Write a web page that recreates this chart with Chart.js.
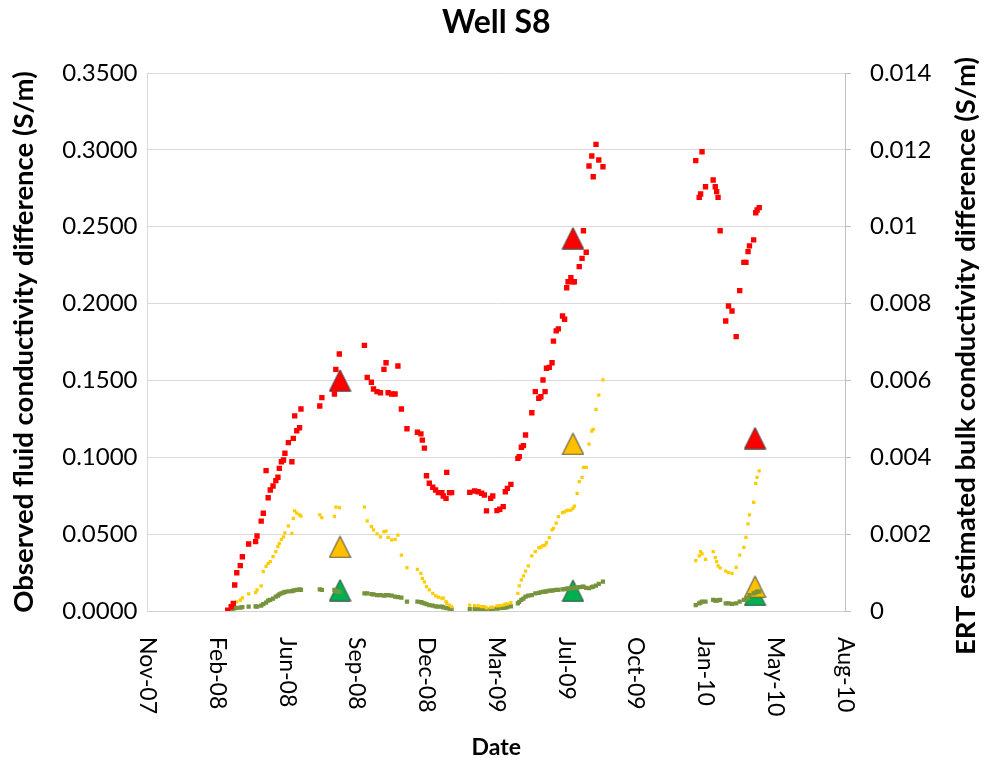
<!DOCTYPE html>
<html>
<head>
<meta charset="utf-8">
<title>Well S8</title>
<script src="https://cdn.jsdelivr.net/npm/chart.js@4.4.1/dist/chart.umd.min.js"></script>
<style>
  html, body { margin: 0; padding: 0; background: #fff; }
  #wrap { width: 985px; height: 766px; position: relative; }
</style>
</head>
<body>
<div id="wrap"><canvas id="wellChart"></canvas></div>
<script>
// Texts
const chartTitle = 'Well S8';
const leftTitle = 'Observed fluid conductivity difference (S/m)';
const rightTitle = 'ERT estimated bulk conductivity difference (S/m)';
const xTitle = 'Date';

// x axis: 100-day steps from the first to the last tick
const xStart = '2007-11-14';
const xEnd = '2010-08-10';
const xTickLabels = ['Nov-07', 'Feb-08', 'Jun-08', 'Sep-08', 'Dec-08', 'Mar-09',
                     'Jul-09', 'Oct-09', 'Jan-10', 'May-10', 'Aug-10'];

// Observed fluid conductivity (left axis), one shared list of sampling dates
const dates = [
  '2008-03-08','2008-03-13','2008-03-16','2008-03-18','2008-03-21','2008-03-26','2008-03-29','2008-04-07',
  '2008-04-17','2008-04-19','2008-04-25','2008-04-28','2008-05-02','2008-05-05','2008-05-08','2008-05-12',
  '2008-05-16','2008-05-19','2008-05-21','2008-05-24','2008-05-27','2008-05-29','2008-06-03','2008-06-08',
  '2008-06-10','2008-06-12','2008-06-15','2008-06-19','2008-06-21','2008-07-18','2008-07-21','2008-08-08',
  '2008-08-10','2008-08-15','2008-09-20','2008-09-24','2008-09-30','2008-10-03','2008-10-08','2008-10-13',
  '2008-10-18','2008-10-21','2008-10-24','2008-10-29','2008-11-03','2008-11-07','2008-11-12','2008-11-20',
  '2008-12-05','2008-12-10','2008-12-12','2008-12-15','2008-12-18','2008-12-22','2008-12-27','2008-12-31',
  '2009-01-04','2009-01-09','2009-01-11','2009-01-15','2009-01-16','2009-01-20','2009-01-23','2009-02-18',
  '2009-02-25','2009-03-02','2009-03-07','2009-03-11','2009-03-14','2009-03-20','2009-03-23','2009-03-29',
  '2009-04-02','2009-04-07','2009-04-10','2009-04-13','2009-04-18','2009-04-28','2009-04-30','2009-05-03',
  '2009-05-06','2009-05-09','2009-05-13','2009-05-18','2009-05-23','2009-05-28','2009-05-31','2009-06-03',
  '2009-06-06','2009-06-08','2009-06-12','2009-06-16','2009-06-18','2009-06-22','2009-06-25','2009-07-01',
  '2009-07-04','2009-07-07','2009-07-09','2009-07-13','2009-07-16','2009-07-18','2009-07-22','2009-07-25',
  '2009-07-29','2009-07-31','2009-08-04','2009-08-08','2009-08-12','2009-08-14','2009-08-18','2009-08-22',
  '2009-08-28','2010-01-08','2010-01-13','2010-01-15','2010-01-17','2010-01-22','2010-02-02','2010-02-05',
  '2010-02-07','2010-02-09','2010-02-12','2010-02-20','2010-02-24','2010-03-01','2010-03-07','2010-03-12',
  '2010-03-18','2010-03-21','2010-03-24','2010-03-26','2010-04-01','2010-04-04','2010-04-06','2010-04-09'
];
const fluidRed = [
  0.0005,0.0028,0.0050,0.0169,0.0249,0.0295,0.0353,0.0436,
  0.0451,0.0488,0.0585,0.0636,0.0913,0.0737,0.0787,0.0813,
  0.0848,0.0870,0.0928,0.0971,0.0982,0.1026,0.1095,0.0971,
  0.1123,0.1269,0.1173,0.1192,0.1314,0.1334,0.1388,0.1412,
  0.1572,0.1672,0.1728,0.1520,0.1488,0.1444,0.1427,0.1420,
  0.1572,0.1615,0.1420,0.1412,0.1412,0.1594,0.1314,0.1186,
  0.1163,0.1152,0.1112,0.1060,0.0880,0.0831,0.0805,0.0787,
  0.0770,0.0770,0.0748,0.0733,0.0902,0.0770,0.0770,0.0772,
  0.0781,0.0776,0.0766,0.0755,0.0651,0.0733,0.0748,0.0653,
  0.0662,0.0679,0.0776,0.0798,0.0824,0.0993,0.1004,0.1065,
  0.1076,0.1145,null,0.1290,0.1427,0.1384,0.1394,0.1503,
  0.1427,0.1579,0.1585,0.1615,0.1756,0.1822,0.1835,0.1919,
  0.1898,0.2103,0.2142,0.2168,0.2142,0.2142,null,0.2240,
  0.2294,0.2474,0.2334,0.2895,0.2960,0.2825,0.3036,0.2934,
  0.2890,0.2930,0.2691,0.2713,0.2988,0.2760,0.2804,0.2760,
  0.2728,0.2691,0.2474,0.1887,0.1984,0.1952,0.1785,0.2084,
  0.2268,0.2268,0.2338,0.2375,0.2414,0.2591,0.2609,0.2624
];
const fluidYellow = [
  0.0005,0.0028,0.0050,0.0055,0.0060,0.0070,0.0085,0.0111,
  0.0119,0.0137,0.0163,0.0256,0.0290,0.0310,0.0321,0.0353,
  0.0386,0.0418,0.0440,0.0466,0.0483,0.0509,0.0553,0.0505,
  0.0603,0.0651,0.0636,0.0625,0.0618,0.0625,0.0607,0.0616,
  0.0675,0.0672,0.0675,0.0586,0.0549,0.0527,0.0501,0.0483,
  0.0516,0.0520,0.0479,0.0462,0.0466,0.0494,0.0364,0.0282,
  0.0271,0.0245,0.0213,0.0190,0.0158,0.0137,0.0115,0.0098,
  0.0090,0.0083,0.0083,0.0061,0.0050,0.0039,0.0028,0.0039,
  0.0035,0.0033,0.0028,0.0028,0.0020,0.0024,0.0026,0.0033,
  0.0035,0.0039,0.0044,0.0046,0.0054,0.0115,0.0163,0.0202,
  0.0228,0.0260,0.0293,0.0358,0.0386,0.0410,0.0416,0.0425,
  0.0429,0.0444,0.0478,0.0527,0.0538,0.0572,0.0614,0.0640,
  0.0645,0.0653,0.0655,0.0657,0.0668,0.0683,0.0766,0.0841,
  0.0870,0.0935,0.0935,0.1086,0.1171,0.1182,0.1312,0.1405,
  0.1503,0.0327,0.0358,0.0386,0.0371,0.0336,0.0386,0.0347,
  0.0321,0.0293,0.0280,0.0260,0.0249,0.0245,0.0284,0.0364,
  0.0414,0.0479,0.0566,0.0625,0.0707,0.0831,0.0870,0.0911
];
const fluidGreen = [
  0.0005,0.0010,0.0015,0.0018,0.0020,0.0022,0.0025,0.0028,
  0.0030,0.0028,0.0035,0.0045,0.0055,0.0067,0.0072,0.0080,
  0.0093,0.0100,0.0108,0.0115,0.0119,0.0124,0.0128,0.0130,
  0.0132,0.0135,0.0137,0.0141,0.0137,0.0141,0.0137,0.0137,
  0.0130,0.0125,0.0115,0.0115,0.0110,0.0108,0.0104,0.0104,
  0.0100,0.0104,0.0104,0.0100,0.0093,0.0090,0.0087,0.0061,
  0.0061,0.0058,0.0055,0.0050,0.0045,0.0039,0.0035,0.0030,
  0.0028,0.0028,0.0024,0.0020,0.0018,0.0015,0.0011,0.0012,
  0.0012,0.0012,0.0010,0.0010,0.0008,0.0010,0.0012,0.0015,
  0.0018,0.0020,0.0022,0.0025,0.0030,0.0050,0.0060,0.0072,
  0.0080,0.0093,0.0100,0.0104,0.0115,0.0118,0.0122,0.0124,
  0.0126,0.0128,0.0132,0.0132,0.0135,0.0137,0.0138,0.0141,
  0.0142,0.0145,0.0146,0.0148,0.0148,0.0150,0.0152,0.0155,
  0.0157,0.0158,0.0150,0.0148,0.0155,0.0158,0.0165,0.0176,
  0.0191,0.0039,0.0050,0.0055,0.0061,0.0061,0.0072,0.0067,
  0.0067,0.0070,0.0072,0.0050,0.0050,0.0046,0.0050,0.0061,
  0.0072,0.0078,0.0083,0.0104,0.0115,0.0120,0.0126,0.0126
];

// ERT estimates (right axis)
const ertDates = ['2008-08-16', '2009-07-16', '2010-04-03'];
const ertRed = [0.0060, 0.0097, 0.0045];
const ertOrange = [0.00167, 0.00435, 0.00063];
const ertGreen = [0.00054, 0.00053, 0.00042];

function toDay(s) {
  const p = s.split('-').map(Number);
  return Date.UTC(p[0], p[1] - 1, p[2]) / 864e5;
}
function points(xs, ys) {
  return xs.map((d, i) => ({ x: toDay(d), y: ys[i] })).filter(p => p.y !== null);
}
// Excel style triangle marker
function triangle(fill) {
  const c = document.createElement('canvas');
  c.width = 23; c.height = 23;
  const g = c.getContext('2d');
  g.beginPath();
  g.moveTo(11.5, 0.8);
  g.lineTo(22.2, 22.2);
  g.lineTo(0.8, 22.2);
  g.closePath();
  g.fillStyle = fill;
  g.fill();
  g.strokeStyle = '#404040';
  g.lineWidth = 1;
  g.stroke();
  return c;
}

const extras = {
  id: 'extras',
  afterDraw(chart) {
    const { ctx, chartArea: a, scales } = chart;
    ctx.save();
    ctx.fillStyle = '#000';
    ctx.textBaseline = 'middle';
    ctx.textAlign = 'center';
    ctx.font = 'bold 32px Lato';
    ctx.fillText(chartTitle, (a.left + a.right) / 2, 23);

    ctx.font = '23px Lato';
    ctx.textAlign = 'left';
    scales.x.ticks.forEach((t, i) => {
      const x = scales.x.getPixelForValue(t.value);
      ctx.save();
      ctx.translate(x, a.bottom + 26);
      ctx.rotate(Math.PI / 2);
      ctx.fillText(xTickLabels[i], 0, 0);
      ctx.restore();
    });

    ctx.font = 'bold 27.5px Lato';
    ctx.textAlign = 'center';
    ctx.translate(966, 356);
    ctx.rotate(-Math.PI / 2);
    ctx.fillText(rightTitle, 0, 0);
    ctx.restore();
  }
};

Chart.defaults.font.family = 'Lato';
Chart.defaults.color = '#000';

const ctx = document.getElementById('wellChart').getContext('2d');
new Chart(ctx, {
  type: 'scatter',
  data: {
    datasets: [
      { data: points(dates, fluidRed), yAxisID: 'y', pointStyle: 'rect', pointRadius: 3.8,
        backgroundColor: '#FF0000', borderWidth: 0 },
      { data: points(dates, fluidYellow), yAxisID: 'y', pointStyle: 'rect', pointRadius: 2.3,
        backgroundColor: '#FFCC00', borderWidth: 0 },
      { data: points(dates, fluidGreen), yAxisID: 'y', pointStyle: 'rect', pointRadius: 3,
        backgroundColor: '#77933C', borderWidth: 0 },
      { data: points(ertDates, ertRed), yAxisID: 'y2', pointStyle: triangle('#FF0000') },
      { data: points(ertDates, ertOrange), yAxisID: 'y2', pointStyle: triangle('#FFC000') },
      { data: points(ertDates, ertGreen), yAxisID: 'y2', pointStyle: triangle('#00B050') }
    ]
  },
  options: {
    responsive: true,
    maintainAspectRatio: false,
    animation: false,
    events: [],
    layout: { padding: { top: 73, left: 0, right: 0, bottom: 0 } },
    plugins: { legend: { display: false }, tooltip: { enabled: false } },
    scales: {
      x: {
        type: 'linear',
        min: toDay(xStart),
        max: toDay(xEnd),
        ticks: { display: false, stepSize: 100 },
        grid: { display: false },
        border: { color: '#D0D0D0' },
        title: { display: true, text: xTitle, font: { size: 23, weight: 'bold' }, padding: { bottom: 5 } },
        afterFit: s => { s.height = 155; }
      },
      y: {
        position: 'left',
        min: 0, max: 0.35,
        ticks: { stepSize: 0.05, padding: 10, font: { size: 24 }, callback: v => v.toFixed(4) },
        grid: { color: '#D9D9D9', drawTicks: false },
        border: { color: '#D9D9D9' },
        title: { display: true, text: leftTitle, font: { size: 27.5, weight: 'bold' }, padding: { top: 8 } },
        afterFit: s => { s.width = 147.5; }
      },
      y2: {
        position: 'right',
        min: 0, max: 0.014,
        ticks: { stepSize: 0.002, padding: 19, font: { size: 24 }, callback: v => String(parseFloat(v.toFixed(3))) },
        grid: { drawOnChartArea: false, color: '#BFBFBF', tickLength: 6 },
        border: { color: '#BFBFBF' },
        afterFit: s => { s.width = 140; }
      }
    }
  },
  plugins: [extras]
});
</script>
</body>
</html>
